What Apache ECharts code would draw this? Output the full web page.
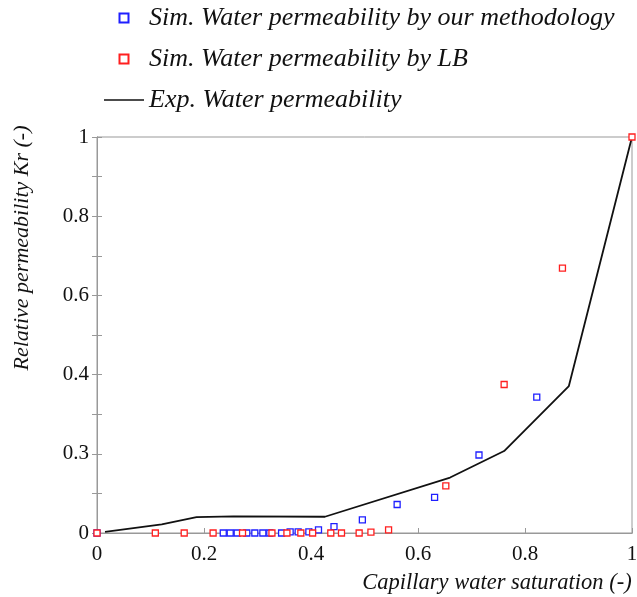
<!DOCTYPE html>
<html>
<head>
<meta charset="utf-8">
<script src="https://cdn.jsdelivr.net/npm/echarts@6/dist/echarts.min.js"></script>
<style>html,body{margin:0;padding:0;background:#fff;}#c{width:637px;height:597px;}</style>
</head>
<body>
<div id="c"></div>
<script>
// Experimental line
const expX = [0.015, 0.121, 0.186, 0.255, 0.426, 0.660, 0.761, 0.882, 1.0];
const expY = [0.003, 0.022, 0.040, 0.042, 0.041, 0.140, 0.207, 0.371, 1.0];
// Simulated - our methodology (blue)
const blueX = [0, 0.236, 0.249, 0.262, 0.280, 0.295, 0.310, 0.323, 0.345, 0.361, 0.376, 0.396, 0.414, 0.443, 0.496, 0.561, 0.631, 0.714, 0.822];
const blueY = [0, 0, 0, 0, 0, 0, 0, 0, 0, 0.003, 0.003, 0.003, 0.008, 0.016, 0.033, 0.072, 0.090, 0.197, 0.343];
// Simulated - LB (red)
const redX = [0, 0.109, 0.163, 0.217, 0.272, 0.327, 0.355, 0.381, 0.403, 0.437, 0.457, 0.490, 0.512, 0.545, 0.652, 0.761, 0.870, 1.0];
const redY = [0, 0, 0, 0, 0, 0, 0, 0, 0, 0, 0, 0, 0.002, 0.008, 0.119, 0.375, 0.669, 1.0];
// Tick labels
const xTickValues = [0, 0.2, 0.4, 0.6, 0.8, 1];
const xTickLabels = ['0', '0.2', '0.4', '0.6', '0.8', '1'];
const yTickValues = [0, 0.2, 0.4, 0.6, 0.8, 1];
const yTickLabels = ['0', '0.3', '0.4', '0.6', '0.8', '1'];

const names = ['Sim. Water permeability by our methodology', 'Sim. Water permeability by LB', 'Exp. Water permeability'];
const FONT = 'Liberation Serif';

function zip(a, b) { return a.map((v, i) => [v, b[i]]); }
function lab(values, labels) {
  return function (v) {
    for (let i = 0; i < values.length; i++) if (Math.abs(values[i] - v) < 1e-6) return labels[i];
    return '';
  };
}

const SQ = 'path://M0,0L10,0L10,10L0,10Z';
const LN = 'path://M0,0L40,0L40,1.6L0,1.6Z';

const chart = echarts.init(document.getElementById('c'), null, {renderer: 'canvas'});
chart.setOption({
  animation: false,
  backgroundColor: '#fff',
  grid: {left: 97, right: 5, top: 137, bottom: 64, containLabel: false, outerBoundsMode: 'none',
         show: true, borderColor: '#999', borderWidth: 1, backgroundColor: 'transparent'},
  legend: {
    orient: 'vertical', left: 104, top: 5, padding: 0, itemWidth: 40, itemHeight: 9, itemGap: 15, symbolKeepAspect: true,
    textStyle: {fontFamily: FONT, fontStyle: 'italic', fontSize: 26, color: '#111', lineHeight: 26},
    data: [
      {name: names[0], icon: SQ, itemStyle: {color: '#fff', borderColor: '#1f1fff', borderWidth: 2}},
      {name: names[1], icon: SQ, itemStyle: {color: '#fff', borderColor: '#ff1f1f', borderWidth: 2}},
      {name: names[2], icon: LN, itemStyle: {color: '#111', borderWidth: 0}}
    ]
  },
  xAxis: [{
    type: 'value', min: 0, max: 1, interval: 0.2,
    axisLine: {show: true, lineStyle: {color: '#999', width: 1}},
    axisTick: {show: true, inside: true, length: 5, lineStyle: {color: '#999'}},
    splitLine: {show: false},
    axisLabel: {fontFamily: FONT, fontSize: 21, color: '#111', margin: 11, formatter: lab(xTickValues, xTickLabels)},
    name: 'Capillary water saturation (-)', nameLocation: 'middle', nameGap: 39,
    nameTextStyle: {fontFamily: FONT, fontStyle: 'italic', fontSize: 22.5, color: '#111', padding: [0, 0, 0, 265]}
  }, {
    type: 'value', min: 0, max: 1, position: 'top',
    axisLine: {show: true, lineStyle: {color: '#999'}}, axisTick: {show: false}, axisLabel: {show: false}, splitLine: {show: false}
  }],
  yAxis: [{
    type: 'value', min: 0, max: 1, interval: 0.2,
    axisLine: {show: true, lineStyle: {color: '#999', width: 1}},
    axisTick: {show: true, inside: true, length: 5, lineStyle: {color: '#999'}},
    minorTick: {show: true, splitNumber: 2, length: 5, lineStyle: {color: '#999'}},
    splitLine: {show: false},
    axisLabel: {fontFamily: FONT, fontSize: 21, color: '#111', margin: 8, formatter: lab(yTickValues, yTickLabels)},
    name: 'Relative permeability Kr (-)', nameLocation: 'middle', nameGap: 64,
    nameTextStyle: {fontFamily: FONT, fontStyle: 'italic', fontSize: 22, color: '#111', padding: [0, 0, 0, 174]}
  }, {
    type: 'value', min: 0, max: 1, interval: 0.2, position: 'right',
    axisLine: {show: true, lineStyle: {color: '#999'}},
    axisTick: {show: true, inside: true, length: 5, lineStyle: {color: '#999'}},
    minorTick: {show: true, splitNumber: 2, length: 5, lineStyle: {color: '#999'}},
    axisLabel: {show: false}, splitLine: {show: false}
  }],
  series: [
    {name: names[2], type: 'line', data: zip(expX, expY), showSymbol: false, symbol: 'none',
     lineStyle: {color: '#111', width: 1.8}, itemStyle: {color: '#111'}, z: 2},
    {name: names[0], type: 'scatter', data: zip(blueX, blueY), symbol: 'rect', symbolSize: 6, clip: false,
     itemStyle: {color: '#fff', borderColor: '#1f1fff', borderWidth: 1.3, opacity: 1}, z: 3},
    {name: names[1], type: 'scatter', data: zip(redX, redY), symbol: 'rect', symbolSize: 6, clip: false,
     itemStyle: {color: '#fff', borderColor: '#ff1f1f', borderWidth: 1.3, opacity: 1}, z: 4}
  ]
});
</script>
</body>
</html>
